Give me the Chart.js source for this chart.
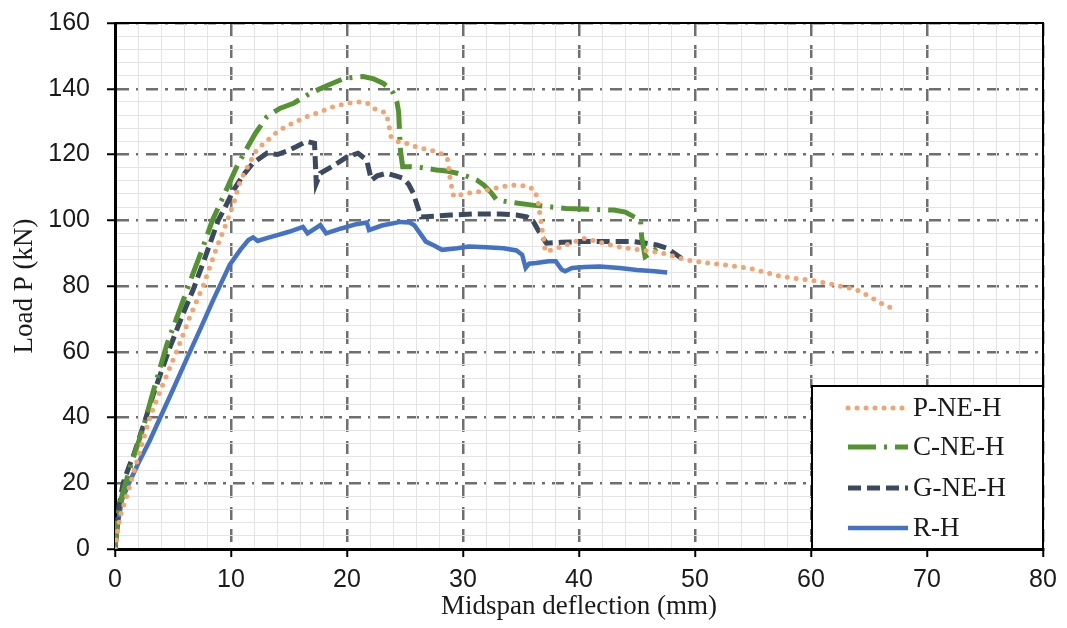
<!DOCTYPE html>
<html>
<head>
<meta charset="utf-8">
<script src="https://cdn.jsdelivr.net/npm/chart.js@4.4.1/dist/chart.umd.min.js"></script>
<style>
  html, body { margin: 0; padding: 0; background: #fff; }
  #wrap { position: relative; width: 1067px; height: 628px; }
</style>
</head>
<body>
<div id="wrap"><canvas id="myChart"></canvas></div>
<script>
// series (x: midspan deflection mm, y: load kN)
const pnehX = [0, 0.2, 0.43, 1, 2, 3, 4, 5.3, 6.5, 7.6, 8.8, 9.7, 10.3, 10.8, 12.2, 13.2, 14.2, 15.3, 16.5, 17.7, 18.8, 20, 21.1, 21.8, 22.3, 23, 23.4, 23.6, 23.8, 24.6, 25.1, 26.3, 27.2, 28, 28.4, 28.7, 28.9, 29.2, 30.3, 31.5, 32.8, 34.1, 35.5, 36.2, 36.5, 36.7, 37.1, 38.1, 39.3, 40.4, 41.8, 43.2, 45.3, 47.3, 49.3, 51, 52.8, 54.7, 56.2, 57.6, 59.9, 61.7, 63.4, 64.2, 64.8, 65.9, 67];
const pnehY = [0, 5, 9.8, 16, 28, 40, 49, 60, 71, 80, 92, 100, 106, 112, 121.4, 124.5, 127.5, 129.5, 131.5, 133, 134.5, 135.6, 136, 135.5, 134, 133.2, 132.5, 129, 125.4, 123.4, 123.4, 121.9, 121.4, 120.4, 119.8, 118.3, 112.2, 107.2, 108.2, 108.7, 109.8, 110.7, 110.4, 109.2, 105, 100.1, 90.4, 91.5, 93, 94.5, 93.3, 92, 91, 89.9, 87.9, 87, 86.3, 85.4, 84, 82.8, 81.8, 80.6, 79.3, 78.5, 77.3, 75, 73.2];

const cnehX = [0, 0.15, 0.35, 0.86, 1.5, 2.4, 3.3, 4.45, 5.6, 6.75, 7.6, 8.4, 9.5, 10.5, 11.3, 12.1, 13.1, 14.2, 15.4, 16.8, 18.3, 19.8, 20.6, 21.4, 22.3, 23.1, 23.7, 24, 24.3, 24.45, 24.6, 24.8, 25.4, 26.5, 27.7, 28.6, 29.5, 30.4, 31.2, 31.8, 32.4, 32.9, 34, 36, 38.9, 41, 43, 44, 44.7, 45.3, 45.4, 45.7, 46.2, 46.7];
const cnehY = [0, 6, 13, 19.5, 27, 36.5, 48, 62, 73, 84, 92, 100, 108.5, 116.3, 121.5, 126.4, 131.5, 134, 135.6, 138.6, 141, 143.2, 143.5, 143.7, 143, 141.7, 140, 138.6, 136, 133, 121.4, 116.3, 116.3, 116, 115.3, 115, 114.3, 113.3, 112.2, 110.7, 108.5, 106.2, 105.5, 104.6, 103.6, 103.3, 103.1, 102.5, 101.1, 100.1, 95, 88.9, 90, 91.5];

const gnehX = [0, 0.15, 0.35, 0.7, 1.2, 1.6, 2.4, 3.3, 4.7, 5.8, 6.75, 7.8, 8.9, 9.5, 10.2, 11, 11.9, 13.1, 14, 14.8, 15.7, 16.5, 17.2, 17.35, 17.7, 18.8, 20, 20.95, 21.7, 22.1, 22.6, 23.4, 24.2, 24.8, 25.3, 25.7, 26.1, 26.4, 27.5, 28.9, 31, 33.2, 34.6, 35.5, 36, 36.4, 36.8, 37.2, 38.5, 40, 42, 44.7, 45.8, 46.7, 47.6, 48.4, 49];
const gnehY = [0, 6, 13, 20, 25, 28.5, 37, 47, 61, 71, 79, 89, 100, 104, 109, 113.5, 117.4, 120.4, 120, 121, 122.5, 124, 123.4, 111.2, 114.3, 116.5, 119.3, 120.4, 118.3, 112.2, 113.5, 114.3, 113.5, 112.8, 111, 108.3, 104, 101, 101.2, 101.6, 101.9, 101.9, 101.6, 101, 100, 97.5, 95, 93, 93.3, 93.5, 93.5, 93.5, 93, 92.5, 91.5, 89.5, 88];

const rhX = [0, 0.15, 0.3, 0.6, 1.2, 2, 3, 3.9, 5, 6.2, 7.3, 8.5, 9.9, 10.8, 11.5, 11.9, 12.3, 13, 14, 15, 16.2, 16.6, 17.7, 18.2, 19.5, 20.8, 21.7, 21.9, 23, 24.6, 25.4, 25.8, 26.3, 26.8, 27.5, 28.2, 29.5, 30.5, 32, 33.5, 34.6, 35.1, 35.4, 35.7, 36.3, 37.4, 38, 38.5, 38.8, 39.4, 40.5, 41.8, 43.5, 45, 46.5, 47.6];
const rhY = [0, 5, 9, 15, 20, 26, 33, 40, 48.5, 58, 66.5, 76, 86.5, 91, 94, 94.8, 93.7, 94.5, 95.5, 96.5, 98, 96, 98.5, 96, 97.5, 98.8, 99.3, 97, 98.4, 99.5, 99.3, 98.5, 96, 93.5, 92.3, 91, 91.5, 92, 91.8, 91.5, 90.8, 89.5, 85.5, 86.8, 87, 87.5, 87.5, 85, 84.5, 85.5, 85.8, 85.9, 85.5, 84.9, 84.5, 84.1];

const seriesNames = ['P-NE-H', 'C-NE-H', 'G-NE-H', 'R-H'];
const xTicksMajor = [0, 10, 20, 30, 40, 50, 60, 70, 80];
const yTicksMajor = [0, 20, 40, 60, 80, 100, 120, 140, 160];

function toPoints(xs, ys) {
  return xs.map((x, i) => ({ x: x, y: ys[i] }));
}

const AXIS_FONT = { family: "'Liberation Sans', Arial, sans-serif", size: 25 };
const SERIF_FONT = { family: "'Liberation Serif', 'Times New Roman', serif", size: 27 };
const GRID_GREY = '#6f6f6f';
const MINOR_GREY = '#e4e4e4';

// legend drawn inside the plot, lower right, like the original figure
const legendBox = {
  id: 'legendBox',
  afterDraw(chart) {
    const { ctx, chartArea } = chart;
    const left = chartArea.right - 231;
    const top = 386;
    const right = chartArea.right;
    const bottom = chartArea.bottom;
    ctx.save();
    ctx.fillStyle = '#fff';
    ctx.fillRect(left, top, right - left, bottom - top);
    ctx.strokeStyle = '#000';
    ctx.lineWidth = 2;
    ctx.strokeRect(left, top, right - left, bottom - top);

    const rows = [408, 447, 488, 528];
    chart.data.datasets.forEach((ds, i) => {
      const y = rows[i];
      ctx.beginPath();
      ctx.strokeStyle = ds.borderColor;
      ctx.lineWidth = ds.borderWidth;
      ctx.lineCap = ds.borderCapStyle || 'butt';
      ctx.setLineDash(ds.borderDash || []);
      ctx.moveTo(left + 36, y);
      ctx.lineTo(left + 96, y);
      ctx.stroke();
      ctx.setLineDash([]);
      ctx.fillStyle = '#1a1a1a';
      ctx.font = SERIF_FONT.size + 'px ' + SERIF_FONT.family;
      ctx.textBaseline = 'middle';
      ctx.textAlign = 'left';
      ctx.fillText(ds.label, left + 101, y + 1);
    });
    ctx.restore();
  }
};

const ctx = document.getElementById('myChart').getContext('2d');
const myChart = new Chart(ctx, {
  type: 'line',
  data: {
    datasets: [
      {
        label: seriesNames[0],
        data: toPoints(pnehX, pnehY),
        borderColor: '#f4a470',
        borderWidth: 5,
        borderDash: [0, 9],
        borderCapStyle: 'round',
        pointRadius: 0,
        tension: 0
      },
      {
        label: seriesNames[1],
        data: toPoints(cnehX, cnehY),
        borderColor: '#549430',
        borderWidth: 5,
        borderDash: [28, 8, 3, 8],
        pointRadius: 0,
        tension: 0
      },
      {
        label: seriesNames[2],
        data: toPoints(gnehX, gnehY),
        borderColor: '#3b4a5e',
        borderWidth: 5,
        borderDash: [13, 6],
        pointRadius: 0,
        tension: 0
      },
      {
        label: seriesNames[3],
        data: toPoints(rhX, rhY),
        borderColor: '#4472c4',
        borderWidth: 4.5,
        pointRadius: 0,
        tension: 0
      }
    ]
  },
  options: {
    responsive: true,
    maintainAspectRatio: false,
    animation: false,
    layout: { padding: 0 },
    plugins: {
      legend: { display: false },
      tooltip: { enabled: false }
    },
    scales: {
      x: {
        type: 'linear',
        position: 'bottom',
        min: xTicksMajor[0],
        max: xTicksMajor[xTicksMajor.length - 1],
        afterBuildTicks: s => { s.ticks = xTicksMajor.map(v => ({ value: v })); },
        ticks: { font: AXIS_FONT, color: '#1a1a1a', padding: 8, maxRotation: 0 },
        grid: { color: GRID_GREY, lineWidth: 2.5, tickColor: '#000', tickWidth: 2, tickLength: 8 },
        border: { color: '#000', width: 3, dash: [13, 9] },
        title: {
          display: true,
          text: 'Midspan deflection (mm)',
          font: SERIF_FONT,
          color: '#1a1a1a',
          padding: { top: 0, bottom: 5 }
        },
        afterFit: s => {
          s.height = 79;
          s.paddingLeft = 0;
          s.paddingRight = 0;
        }
      },
      y: {
        type: 'linear',
        position: 'left',
        min: yTicksMajor[0],
        max: yTicksMajor[yTicksMajor.length - 1],
        afterBuildTicks: s => { s.ticks = yTicksMajor.map(v => ({ value: v })); },
        ticks: { font: AXIS_FONT, color: '#1a1a1a', padding: 17 },
        grid: { color: GRID_GREY, lineWidth: 2.5, tickColor: '#000', tickWidth: 2, tickLength: 8 },
        border: { color: '#000', width: 3, dash: [12, 7, 3, 7] },
        title: {
          display: true,
          text: 'Load P (kN)',
          font: SERIF_FONT,
          color: '#1a1a1a',
          padding: { top: 9, bottom: 0 }
        },
        afterFit: s => {
          s.width = 115;
          s.paddingTop = 0;
          s.paddingBottom = 0;
        }
      },
      xMinor: {
        type: 'linear',
        position: 'top',
        min: 0,
        max: 80,
        ticks: { display: false, stepSize: 2 },
        grid: {
          color: c => (c.tick && c.tick.value % 10 === 0) ? 'transparent' : MINOR_GREY,
          lineWidth: 1,
          drawTicks: false,
          z: -1
        },
        border: { color: '#000', width: 2 },
        afterFit: s => { s.height = 23; }
      },
      yMinor: {
        type: 'linear',
        position: 'right',
        min: 0,
        max: 160,
        ticks: { display: false, stepSize: 4 },
        grid: {
          color: c => (c.tick && c.tick.value % 20 === 0) ? 'transparent' : MINOR_GREY,
          lineWidth: 1,
          drawTicks: false,
          z: -1
        },
        border: { color: '#000', width: 2 },
        afterFit: s => { s.width = 24; }
      }
    }
  },
  plugins: [legendBox]
});
</script>
</body>
</html>
